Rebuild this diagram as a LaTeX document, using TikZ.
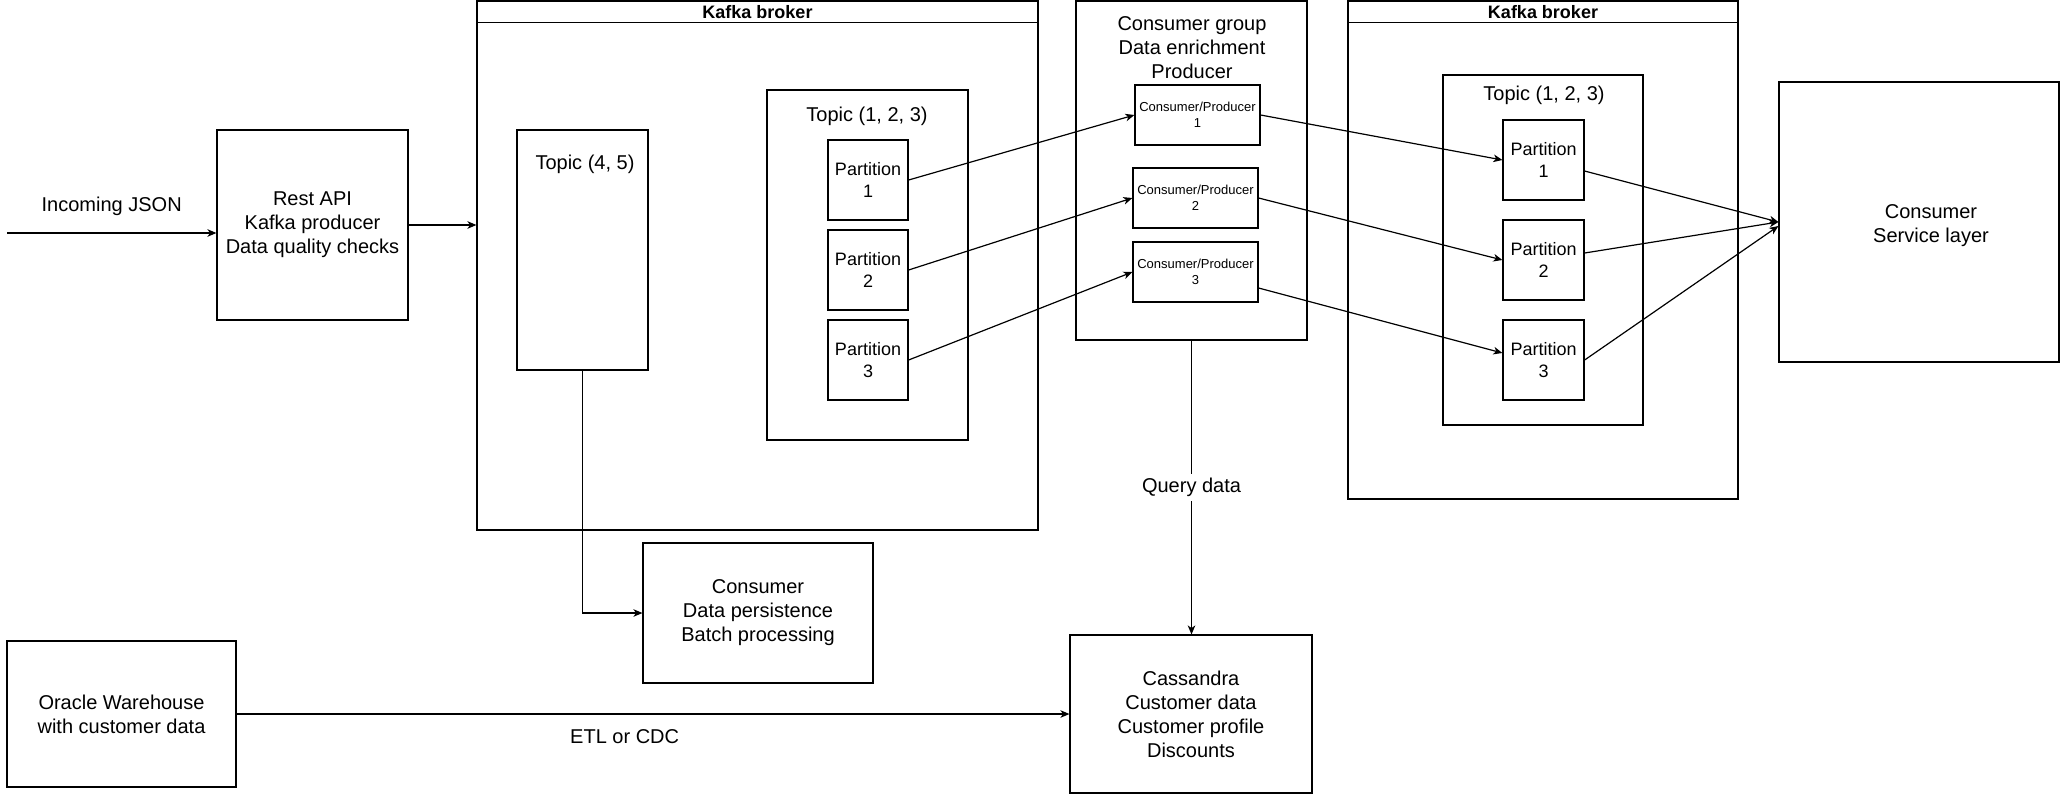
\documentclass[tikz,border=0pt]{standalone}
\usepackage{fontspec}
\setmainfont{Liberation Sans}
\usetikzlibrary{arrows.meta,calc}

\tikzset{
  box/.style={draw, line width=0.6pt, inner sep=0pt, align=center},
  wh/.style 2 args={minimum width=#1*0.5pt, minimum height=#2*0.5pt},
  arr/.style={-{Stealth[length=4.5pt,width=3.8pt,inset=1.3pt]}, line width=0.6pt},
  txt/.style={font=\fontsize{10}{12}\selectfont, align=center},
  small/.style={font=\fontsize{9}{11}\selectfont, align=center},
  tiny/.style={font=\fontsize{6.5}{8}\selectfont, align=center},
  head/.style={font=\bfseries\fontsize{9}{11}\selectfont},
}

\begin{document}
\begin{tikzpicture}[x=0.5pt,y=-0.5pt]
    \useasboundingbox (0,0) rectangle (2060,794);

    % producer side
    \node[box, txt, wh={191}{190}] (restapi) at (312.5,225) {Rest API\\Kafka producer\\Data quality checks};
    \coordinate (json) at (7,233);

    % first broker
    \node[box, wh={561}{529}] (broker1) at (757.5,265.5) {};
    \draw[line width=0.6pt] ($(broker1.north west)+(0,22)$) -- ($(broker1.north east)+(0,22)$);
    \node[head] (hdr1) at (757.5,12) {Kafka broker};
    \node[box, wh={131}{240}] (topic45) at (582.5,250) {};
    \node[txt] (t45) at (585,164) {Topic (4, 5)};
    \node[box, wh={201}{350}] (topica) at (867.5,265) {};
    \node[txt] (ta) at (867,116) {Topic (1, 2, 3)};
    \foreach \i/\y in {1/180,2/270,3/360}
        \node[box, small, wh={80}{80}] (pa\i) at (868,\y) {Partition\\\i};

    % consumer group
    \node[box, wh={231}{339}] (cgroup) at (1191.5,170.5) {};
    \node[txt] (cgtxt) at (1192,48) {Consumer group\\Data enrichment\\Producer};
    \foreach \i/\x/\y in {1/1197.5/115,2/1195.5/198,3/1195.5/272}
        \node[box, tiny, wh={125}{60}] (cp\i) at (\x,\y) {Consumer/Producer\\\i};

    % second broker
    \node[box, wh={390}{498}] (broker2) at (1543,250) {};
    \draw[line width=0.6pt] ($(broker2.north west)+(0,22)$) -- ($(broker2.north east)+(0,22)$);
    \node[head] (hdr2) at (1543,12) {Kafka broker};
    \node[box, wh={200}{350}] (topicb) at (1543,250) {};
    \node[txt] (tb) at (1544,95) {Topic (1, 2, 3)};
    \foreach \i/\y in {1/160,2/260,3/360}
        \node[box, small, wh={81}{80}] (pb\i) at (1543.5,\y) {Partition\\\i};

    \node[box, wh={280}{280}] (service) at (1919,222) {};
    \node[txt] (srvtxt) at (1931,226) {Consumer\\Service layer};

    % bottom row
    \node[box, txt, wh={230}{140}] (persist) at (758,613) {Consumer\\Data persistence\\Batch processing};
    \node[box, txt, wh={229}{146}] (oracle) at (121.5,714) {Oracle Warehouse\\with customer data};
    \node[box, txt, wh={242}{158}] (cassandra) at (1191,714) {Cassandra\\Customer data\\Customer profile\\Discounts};

    % connectors
    \draw[arr] (json) -- (json -| restapi.west) node[txt, midway, yshift=13.5pt] (jsonlbl) {Incoming JSON};
    \draw[arr] (restapi.east) -- (restapi.east -| broker1.west);
    \foreach \i in {1,2,3}
        \draw[arr] (pa\i.east) -- (cp\i.west);
    \draw[arr] (cp1.east) -- (pb1.west);
    \draw[arr] (cp2.east) -- (pb2.west);
    \draw[arr] ([yshift=-8pt]cp3.east) -- ([yshift=3.5pt]pb3.west);
    \draw[arr] ([yshift=-5.5pt]pb1.east) -- (service.west);
    \draw[arr] ([yshift=3.5pt]pb2.east) -- (service.west);
    \draw[arr] (pb3.east) -- ([yshift=-2pt]service.west);
    \draw[arr] (topic45.south) |- (persist.west);
    \draw[arr] (cgroup.south) -- node[txt, fill=white, inner sep=2pt] (qlbl) {Query data} (cgroup.south |- cassandra.north);
    \draw[arr] (oracle.east) -- node[txt, pos=0.466, yshift=-11.5pt] (etl) {ETL or CDC} (cassandra.west);

\end{tikzpicture}
\end{document}
